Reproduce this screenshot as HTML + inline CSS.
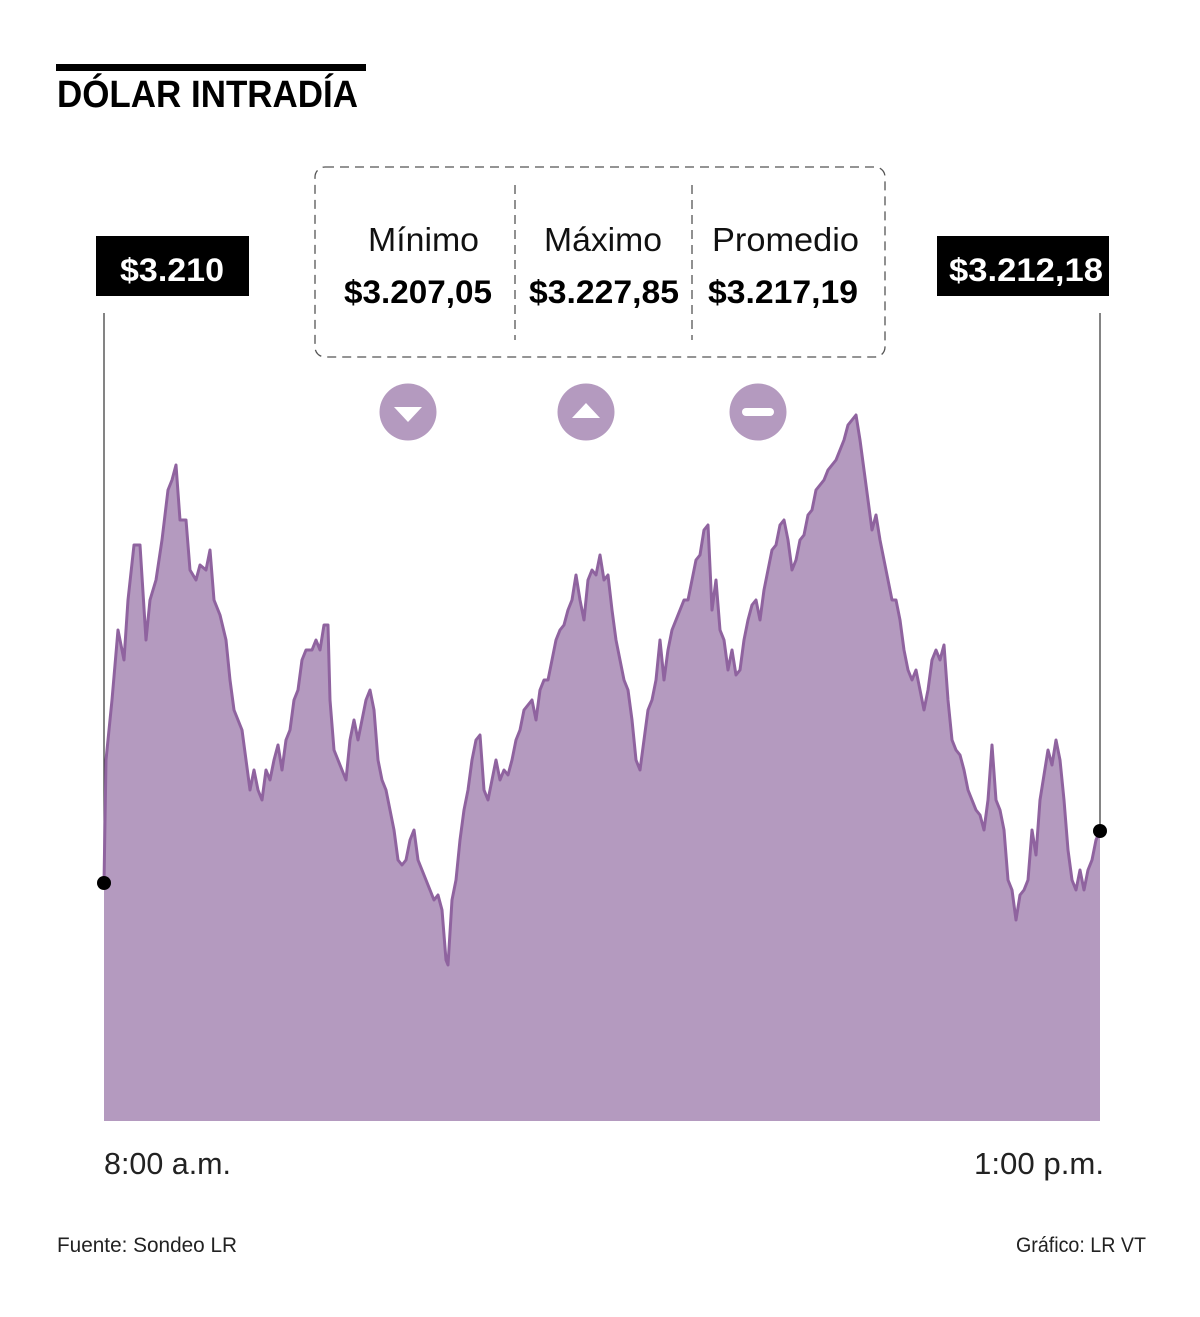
<!DOCTYPE html>
<html><head><meta charset="utf-8"><style>
html,body{margin:0;padding:0;background:#fff;}
svg{display:block}
text{font-family:"Liberation Sans",sans-serif;}
</style></head><body>
<svg width="1200" height="1317" viewBox="0 0 1200 1317" xmlns="http://www.w3.org/2000/svg">
<rect x="56" y="64" width="310" height="7" fill="#000"/>
<text x="57" y="107" font-size="38" font-weight="bold" textLength="301" lengthAdjust="spacingAndGlyphs">DÓLAR INTRADÍA</text>

<rect x="315" y="167" width="570" height="190" rx="10" fill="none" stroke="#555" stroke-width="1.3" stroke-dasharray="9,6"/>
<line x1="515" y1="185" x2="515" y2="340" stroke="#555" stroke-width="1.3" stroke-dasharray="9,6"/>
<line x1="692" y1="185" x2="692" y2="340" stroke="#555" stroke-width="1.3" stroke-dasharray="9,6"/>
<text x="368" y="251" font-size="33" textLength="111" lengthAdjust="spacingAndGlyphs" fill="#111">Mínimo</text>
<text x="544" y="251" font-size="33" textLength="118" lengthAdjust="spacingAndGlyphs" fill="#111">Máximo</text>
<text x="712" y="251" font-size="33" textLength="147" lengthAdjust="spacingAndGlyphs" fill="#111">Promedio</text>
<text x="344" y="303" font-size="32" font-weight="bold" textLength="148" lengthAdjust="spacingAndGlyphs">$3.207,05</text>
<text x="529" y="303" font-size="32" font-weight="bold" textLength="150" lengthAdjust="spacingAndGlyphs">$3.227,85</text>
<text x="708" y="303" font-size="32" font-weight="bold" textLength="150" lengthAdjust="spacingAndGlyphs">$3.217,19</text>

<circle cx="408" cy="412" r="28.5" fill="#b49abf"/>
<polygon points="394,407 422,407 408,422" fill="#fff"/>
<circle cx="586" cy="412" r="28.5" fill="#b49abf"/>
<polygon points="572,418 600,418 586,403" fill="#fff"/>
<circle cx="758" cy="412" r="28.5" fill="#b49abf"/>
<rect x="742" y="408" width="32" height="8" rx="4" fill="#fff"/>

<rect x="96" y="236" width="153" height="60" fill="#000"/>
<text x="172" y="281" font-size="32" font-weight="bold" fill="#fff" text-anchor="middle" textLength="104" lengthAdjust="spacingAndGlyphs">$3.210</text>
<rect x="937" y="236" width="172" height="60" fill="#000"/>
<text x="1026" y="281" font-size="32" font-weight="bold" fill="#fff" text-anchor="middle" textLength="154" lengthAdjust="spacingAndGlyphs">$3.212,18</text>
<line x1="104" y1="313" x2="104" y2="883" stroke="#333" stroke-width="1.2"/>
<line x1="1100" y1="313" x2="1100" y2="831" stroke="#333" stroke-width="1.2"/>

<path fill="#b49abf" stroke="none" d="M104,1121 L104,883 106,760 112,700 118,630 124,660 128,600 134,545 140,545 146,640 150,600 156,580 162,540 168,490 172,480 176,465 180,520 186,520 190,570 196,580 200,565 206,570 210,550 214,600 220,615 226,640 230,680 234,710 238,720 242,730 246,760 250,790 254,770 258,790 262,800 266,770 270,780 274,760 278,745 282,770 286,740 290,730 294,700 298,690 302,660 306,650 312,650 316,640 320,650 324,625 328,625 330,700 334,750 338,760 342,770 346,780 350,740 354,720 358,740 362,720 366,700 370,690 374,710 378,760 382,780 386,790 390,810 394,830 398,860 402,865 406,860 410,840 414,830 418,860 422,870 426,880 430,890 434,900 438,895 442,910 446,960 448,965 452,900 456,880 460,840 464,810 468,790 472,760 476,740 480,735 484,790 488,800 492,780 496,760 500,780 504,770 508,775 512,760 516,740 520,730 524,710 528,705 532,700 536,720 540,690 544,680 548,680 552,660 556,640 560,630 564,625 568,610 572,600 576,575 580,600 584,620 588,580 592,570 596,575 600,555 604,580 608,575 612,610 616,640 620,660 624,680 628,690 632,720 636,760 640,770 644,740 648,710 652,700 656,680 660,640 664,680 668,650 672,630 676,620 680,610 684,600 688,600 692,580 696,560 700,555 704,530 708,525 712,610 716,580 720,630 724,640 728,670 732,650 736,675 740,670 744,640 748,620 752,605 756,600 760,620 764,590 768,570 772,550 776,545 780,525 784,520 788,540 792,570 796,560 800,540 804,535 808,515 812,510 816,490 820,485 824,480 828,470 832,465 836,460 840,450 844,440 848,425 852,420 856,415 860,440 864,470 868,500 872,530 876,515 880,540 884,560 888,580 892,600 896,600 900,620 904,650 908,670 912,680 916,670 920,690 924,710 928,690 932,660 936,650 940,660 944,645 948,700 952,740 956,750 960,755 964,770 968,790 972,800 976,810 980,815 984,830 988,800 992,745 996,800 1000,810 1004,830 1008,880 1012,890 1016,920 1020,895 1024,890 1028,880 1032,830 1036,855 1040,800 1044,775 1048,750 1052,765 1056,740 1060,760 1064,800 1068,850 1072,880 1076,890 1080,870 1084,890 1088,870 1092,860 1096,840 1100,831 L1100,1121 Z"/>
<path fill="none" stroke="#8f639f" stroke-width="3" stroke-linejoin="round" d="M104,883 106,760 112,700 118,630 124,660 128,600 134,545 140,545 146,640 150,600 156,580 162,540 168,490 172,480 176,465 180,520 186,520 190,570 196,580 200,565 206,570 210,550 214,600 220,615 226,640 230,680 234,710 238,720 242,730 246,760 250,790 254,770 258,790 262,800 266,770 270,780 274,760 278,745 282,770 286,740 290,730 294,700 298,690 302,660 306,650 312,650 316,640 320,650 324,625 328,625 330,700 334,750 338,760 342,770 346,780 350,740 354,720 358,740 362,720 366,700 370,690 374,710 378,760 382,780 386,790 390,810 394,830 398,860 402,865 406,860 410,840 414,830 418,860 422,870 426,880 430,890 434,900 438,895 442,910 446,960 448,965 452,900 456,880 460,840 464,810 468,790 472,760 476,740 480,735 484,790 488,800 492,780 496,760 500,780 504,770 508,775 512,760 516,740 520,730 524,710 528,705 532,700 536,720 540,690 544,680 548,680 552,660 556,640 560,630 564,625 568,610 572,600 576,575 580,600 584,620 588,580 592,570 596,575 600,555 604,580 608,575 612,610 616,640 620,660 624,680 628,690 632,720 636,760 640,770 644,740 648,710 652,700 656,680 660,640 664,680 668,650 672,630 676,620 680,610 684,600 688,600 692,580 696,560 700,555 704,530 708,525 712,610 716,580 720,630 724,640 728,670 732,650 736,675 740,670 744,640 748,620 752,605 756,600 760,620 764,590 768,570 772,550 776,545 780,525 784,520 788,540 792,570 796,560 800,540 804,535 808,515 812,510 816,490 820,485 824,480 828,470 832,465 836,460 840,450 844,440 848,425 852,420 856,415 860,440 864,470 868,500 872,530 876,515 880,540 884,560 888,580 892,600 896,600 900,620 904,650 908,670 912,680 916,670 920,690 924,710 928,690 932,660 936,650 940,660 944,645 948,700 952,740 956,750 960,755 964,770 968,790 972,800 976,810 980,815 984,830 988,800 992,745 996,800 1000,810 1004,830 1008,880 1012,890 1016,920 1020,895 1024,890 1028,880 1032,830 1036,855 1040,800 1044,775 1048,750 1052,765 1056,740 1060,760 1064,800 1068,850 1072,880 1076,890 1080,870 1084,890 1088,870 1092,860 1096,840 1100,831"/>
<circle cx="104" cy="883" r="7" fill="#000"/>
<circle cx="1100" cy="831" r="7" fill="#000"/>

<text x="104" y="1174" font-size="31" fill="#222" textLength="127" lengthAdjust="spacingAndGlyphs">8:00 a.m.</text>
<text x="1104" y="1174" font-size="31" fill="#222" text-anchor="end" textLength="130" lengthAdjust="spacingAndGlyphs">1:00 p.m.</text>
<text x="57" y="1252" font-size="21" fill="#222" textLength="180" lengthAdjust="spacingAndGlyphs">Fuente: Sondeo LR</text>
<text x="1146" y="1252" font-size="21" fill="#222" text-anchor="end" textLength="130" lengthAdjust="spacingAndGlyphs">Gráfico: LR VT</text>
</svg>
</body></html>
